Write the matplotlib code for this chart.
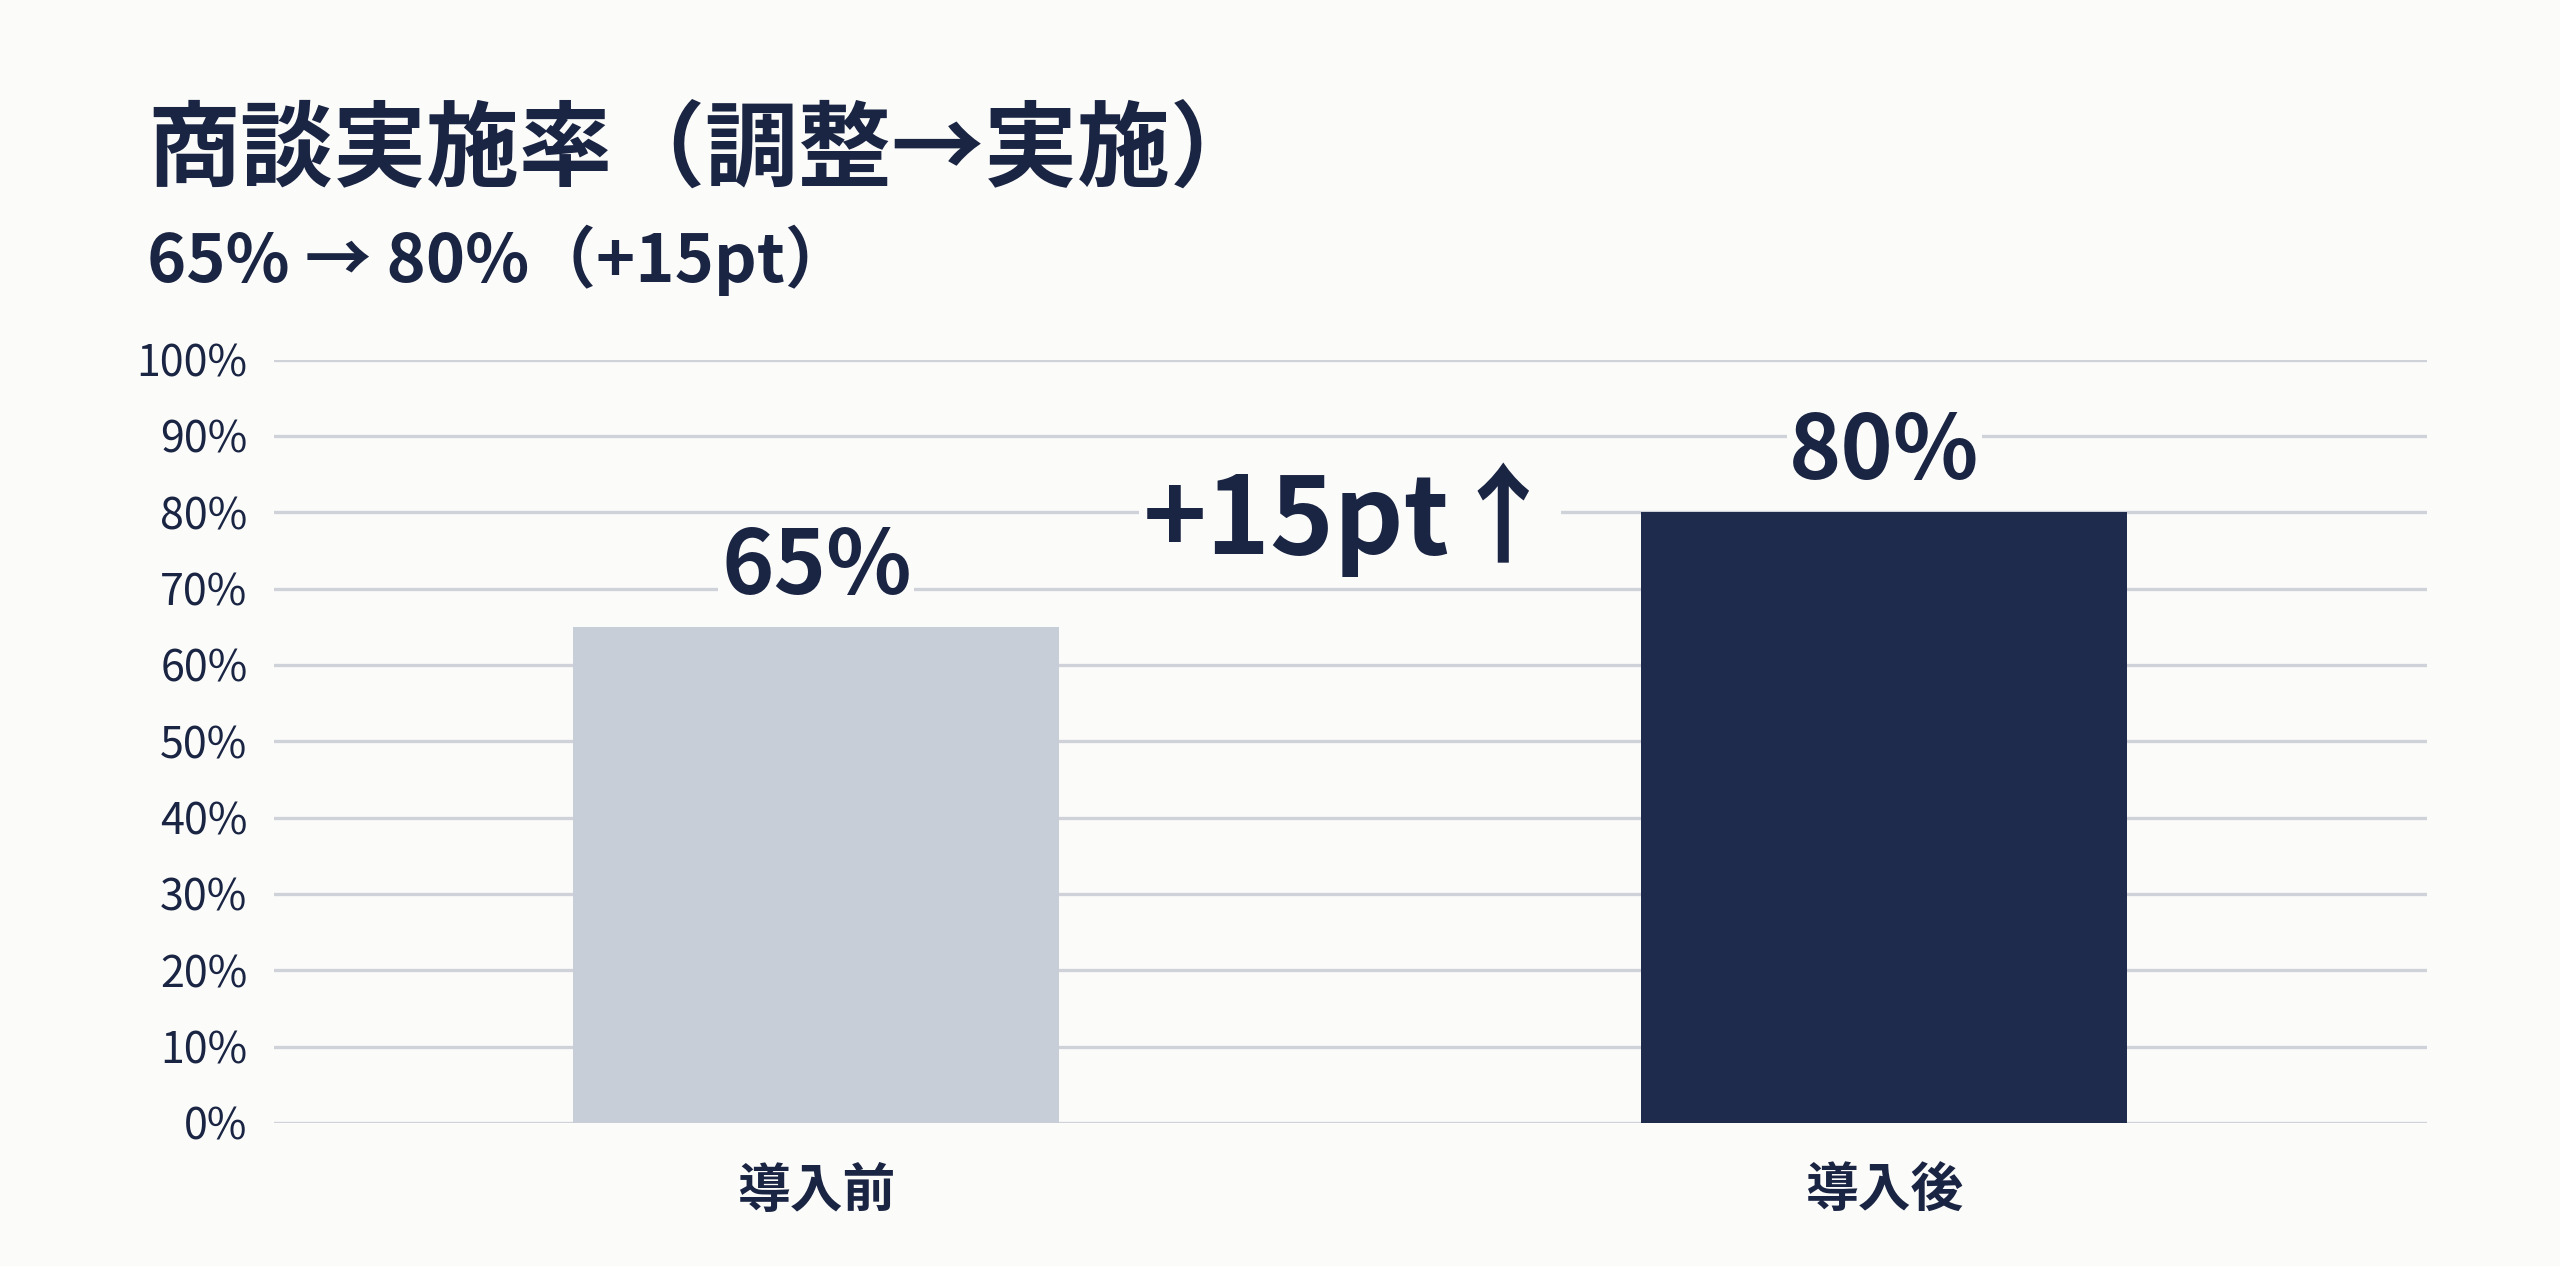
import matplotlib.pyplot as plt
from matplotlib.ticker import MultipleLocator, FuncFormatter

# データ
categories = ["導入前", "導入後"]
rates = [65, 80]
bar_colors = ["#C8CED7", "#1F2B4C"]
title = "商談実施率（調整→実施）"
subtitle = "65% → 80%（+15pt）"
delta_label = "+15pt↑"

navy = "#1A2443"
bg = "#FBFBF9"

plt.rcParams["font.family"] = ["Noto Sans CJK JP", "DejaVu Sans"]

fig = plt.figure(figsize=(25.6, 12.66), dpi=100, facecolor=bg)
ax = fig.add_axes([0.107, 0.113, 0.841, 0.603], facecolor=bg)

x = range(len(categories))
ax.bar(x, rates, width=0.455, color=bar_colors, zorder=3)

# 値ラベル
for xi, v in zip(x, rates):
    ax.text(xi, v + 1.8, f"{v}%", ha="center", va="bottom", fontsize=64,
            fontweight="bold", color=navy, zorder=4,
            bbox=dict(facecolor=bg, edgecolor="none", pad=2))

# 差分ラベル
ax.text(0.5, 79, delta_label, ha="center", va="center", fontsize=78,
        fontweight="bold", color=navy, zorder=4,
        bbox=dict(facecolor=bg, edgecolor="none", pad=2))

ax.set_ylim(0, 100)
ax.set_xlim(-0.508, 1.508)
ax.yaxis.set_major_locator(MultipleLocator(10))
ax.yaxis.set_major_formatter(FuncFormatter(lambda v, _: f"{v:.0f}%"))
ax.set_xticks(list(x))
ax.set_xticklabels(categories, fontsize=38, fontweight="bold", color=navy)
ax.tick_params(axis="y", length=0, pad=19, labelsize=31, labelcolor=navy)
ax.tick_params(axis="x", length=0, pad=30)
ax.grid(axis="y", color="#CFD3D9", linewidth=2.4, zorder=0)
for s in ax.spines.values():
    s.set_visible(False)

fig.text(0.0575, 0.881, title, fontsize=67, fontweight="bold", color=navy,
         ha="left", va="center")
fig.text(0.0575, 0.794, subtitle, fontsize=48, fontweight="bold", color=navy,
         ha="left", va="center")

fig.savefig("out.png", dpi=100, facecolor=bg)
